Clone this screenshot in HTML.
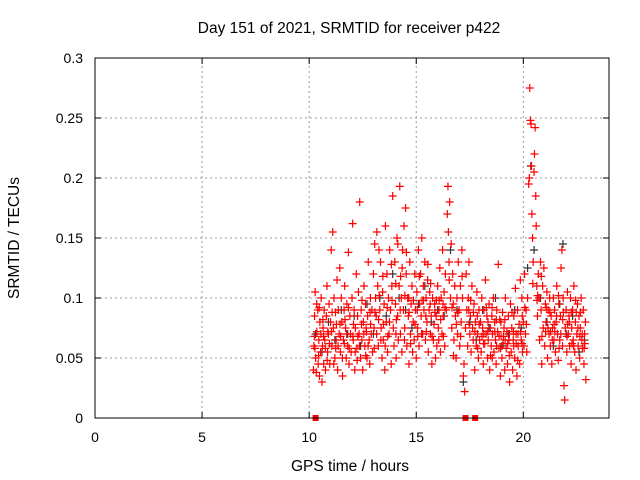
<!DOCTYPE html>
<html><head><meta charset="utf-8"><style>
body{margin:0;background:#fff;}
svg{display:block;font-family:"Liberation Sans",sans-serif;}
</style></head><body>
<svg id="chart" width="640" height="480" xmlns="http://www.w3.org/2000/svg">
<text x="349" y="33" font-size="15.5" text-anchor="middle">Day 151 of 2021, SRMTID for receiver p422</text>
<text x="350" y="471" font-size="15.5" text-anchor="middle">GPS time / hours</text>
<text transform="translate(19,238) rotate(-90)" font-size="15.5" text-anchor="middle">SRMTID / TECUs</text>
<g id="grid"></g>
<g id="ticks"></g>
<g id="black"></g>
<g id="red"></g>
<rect x="95" y="58" width="514" height="360" fill="none" stroke="#000" stroke-width="1"/>
</svg>
<script>
const xTicks=[0,5,10,15,20];
const yTicks=[0,0.05,0.1,0.15,0.2,0.25,0.3];
const yTickLabels=["0","0.05","0.1","0.15","0.2","0.25","0.3"];
const redPoints=[
[10.2,0.04],[10.22,0.06],[10.25,0.085],[10.28,0.105],[10.3,0.05],[10.33,0.038],[10.36,0.072],[10.4,0.09],[10.42,0.045],[10.45,0.065],[10.48,0.035],[10.5,0.08],[10.53,0.055],[10.56,0.1],[10.6,0.03],[10.62,0.06],[10.65,0.075],[10.68,0.045],[10.7,0.09],[10.73,0.065],[10.76,0.04],[10.8,0.085],[10.83,0.11],[10.86,0.055],[10.9,0.07],[10.93,0.095],[10.96,0.045],[11.0,0.08],[11.03,0.14],[11.06,0.06],[11.1,0.155],[11.13,0.075],[11.16,0.1],[11.2,0.05],[11.23,0.088],[11.26,0.065],[11.3,0.115],[11.33,0.04],[11.36,0.09],[11.4,0.07],[11.43,0.125],[11.46,0.055],[11.5,0.1],[11.53,0.08],[11.56,0.035],[11.6,0.065],[11.63,0.09],[11.66,0.11],[11.7,0.075],[11.73,0.05],[11.76,0.095],[11.8,0.06],[11.83,0.138],[11.86,0.045],[11.9,0.085],[11.93,0.07],[11.96,0.055],[12.0,0.1],[12.03,0.162],[12.06,0.065],[12.1,0.09],[12.13,0.04],[12.16,0.075],[12.2,0.12],[12.23,0.058],[12.26,0.085],[12.3,0.105],[12.33,0.07],[12.36,0.18],[12.4,0.05],[12.43,0.09],[12.46,0.065],[12.5,0.04],[12.53,0.08],[12.56,0.11],[12.6,0.06],[12.63,0.095],[12.66,0.075],[12.7,0.05],[12.73,0.085],[12.76,0.13],[12.8,0.065],[12.83,0.045],[12.86,0.1],[12.9,0.07],[12.93,0.09],[12.96,0.055],[13.0,0.12],[13.03,0.075],[13.06,0.145],[13.1,0.1],[13.13,0.085],[13.16,0.155],[13.2,0.11],[13.23,0.06],[13.26,0.14],[13.3,0.09],[13.33,0.13],[13.36,0.075],[13.4,0.05],[13.43,0.105],[13.46,0.065],[13.5,0.095],[13.53,0.04],[13.56,0.16],[13.6,0.08],[13.63,0.12],[13.66,0.055],[13.7,0.1],[13.73,0.07],[13.76,0.14],[13.8,0.09],[13.83,0.045],[13.86,0.11],[13.9,0.185],[13.93,0.075],[13.96,0.06],[14.0,0.13],[14.03,0.095],[14.06,0.05],[14.1,0.15],[14.13,0.085],[14.16,0.065],[14.2,0.11],[14.23,0.193],[14.26,0.07],[14.3,0.1],[14.33,0.055],[14.36,0.14],[14.4,0.09],[14.43,0.16],[14.46,0.075],[14.5,0.175],[14.53,0.12],[14.56,0.06],[14.6,0.1],[14.63,0.085],[14.66,0.045],[14.7,0.13],[14.73,0.07],[14.76,0.095],[14.8,0.11],[14.83,0.055],[14.86,0.08],[14.9,0.065],[14.93,0.12],[14.96,0.09],[15.0,0.05],[15.03,0.105],[15.06,0.075],[15.1,0.14],[15.13,0.06],[15.16,0.095],[15.2,0.12],[15.23,0.085],[15.26,0.15],[15.3,0.07],[15.33,0.11],[15.36,0.09],[15.4,0.13],[15.43,0.065],[15.46,0.1],[15.5,0.08],[15.53,0.115],[15.56,0.055],[15.6,0.09],[15.63,0.105],[15.66,0.07],[15.7,0.085],[15.73,0.045],[15.76,0.1],[15.8,0.065],[15.83,0.078],[15.86,0.095],[15.9,0.05],[15.93,0.085],[15.96,0.06],[16.0,0.11],[16.03,0.075],[16.06,0.09],[16.1,0.125],[16.13,0.055],[16.16,0.1],[16.2,0.07],[16.23,0.14],[16.26,0.085],[16.3,0.105],[16.33,0.06],[16.36,0.12],[16.4,0.09],[16.45,0.17],[16.48,0.193],[16.5,0.155],[16.53,0.13],[16.56,0.18],[16.6,0.1],[16.63,0.145],[16.66,0.075],[16.7,0.12],[16.73,0.095],[16.76,0.065],[16.8,0.11],[16.83,0.085],[16.86,0.05],[16.9,0.1],[16.93,0.07],[16.96,0.13],[17.0,0.09],[17.03,0.06],[17.06,0.11],[17.1,0.08],[17.13,0.14],[17.16,0.1],[17.2,0.035],[17.23,0.045],[17.26,0.022],[17.3,0.075],[17.33,0.12],[17.36,0.09],[17.4,0.06],[17.43,0.1],[17.46,0.13],[17.5,0.07],[17.53,0.085],[17.56,0.055],[17.6,0.11],[17.63,0.075],[17.66,0.065],[17.7,0.095],[17.73,0.04],[17.76,0.08],[17.8,0.06],[17.83,0.105],[17.86,0.07],[17.9,0.05],[17.93,0.09],[17.96,0.065],[18.0,0.08],[18.03,0.055],[18.06,0.1],[18.1,0.075],[18.13,0.045],[18.16,0.09],[18.2,0.062],[18.23,0.115],[18.26,0.07],[18.3,0.085],[18.33,0.05],[18.36,0.065],[18.4,0.095],[18.43,0.04],[18.46,0.075],[18.5,0.06],[18.53,0.085],[18.56,0.07],[18.6,0.1],[18.63,0.055],[18.66,0.08],[18.7,0.065],[18.73,0.045],[18.76,0.09],[18.8,0.072],[18.83,0.128],[18.86,0.058],[18.9,0.082],[18.93,0.035],[18.96,0.068],[19.0,0.05],[19.03,0.088],[19.06,0.062],[19.1,0.075],[19.13,0.04],[19.16,0.1],[19.2,0.058],[19.23,0.072],[19.26,0.045],[19.3,0.085],[19.33,0.065],[19.36,0.03],[19.4,0.095],[19.43,0.055],[19.46,0.075],[19.5,0.04],[19.53,0.065],[19.56,0.085],[19.6,0.05],[19.63,0.108],[19.66,0.07],[19.7,0.035],[19.73,0.09],[19.76,0.06],[19.8,0.078],[19.83,0.045],[19.86,0.115],[19.9,0.065],[19.93,0.1],[19.96,0.055],[20.0,0.08],[20.03,0.06],[20.06,0.12],[20.1,0.07],[20.13,0.09],[20.16,0.055],[20.2,0.1],[20.25,0.195],[20.28,0.2],[20.3,0.275],[20.33,0.248],[20.36,0.245],[20.38,0.21],[20.4,0.17],[20.43,0.15],[20.46,0.13],[20.5,0.205],[20.52,0.22],[20.55,0.242],[20.58,0.185],[20.6,0.16],[20.63,0.11],[20.66,0.085],[20.7,0.12],[20.73,0.1],[20.76,0.065],[20.8,0.13],[20.83,0.09],[20.86,0.045],[20.9,0.11],[20.93,0.075],[20.96,0.125],[21.0,0.06],[21.03,0.095],[21.06,0.08],[21.1,0.105],[21.13,0.05],[21.16,0.09],[21.2,0.07],[21.23,0.1],[21.26,0.06],[21.3,0.085],[21.33,0.045],[21.36,0.075],[21.4,0.1],[21.43,0.065],[21.46,0.09],[21.5,0.055],[21.53,0.08],[21.56,0.11],[21.6,0.07],[21.63,0.048],[21.66,0.095],[21.7,0.065],[21.73,0.085],[21.76,0.125],[21.8,0.14],[21.83,0.06],[21.86,0.1],[21.9,0.027],[21.93,0.015],[21.96,0.075],[22.0,0.09],[22.03,0.055],[22.06,0.105],[22.1,0.07],[22.13,0.085],[22.16,0.06],[22.2,0.1],[22.23,0.045],[22.26,0.075],[22.3,0.09],[22.33,0.065],[22.36,0.11],[22.4,0.055],[22.43,0.08],[22.46,0.04],[22.5,0.07],[22.53,0.095],[22.56,0.06],[22.6,0.085],[22.63,0.05],[22.66,0.075],[22.7,0.1],[22.73,0.065],[22.76,0.058],[22.8,0.09],[22.83,0.045],[22.86,0.07],[22.9,0.08],[22.92,0.032],
[10.35,0.095],[10.55,0.07],[10.75,0.058],[10.95,0.062],[11.15,0.045],[11.35,0.06],[11.55,0.05],[11.75,0.07],[12.15,0.055],[12.35,0.06],[12.55,0.07],[12.75,0.06],[13.15,0.07],[13.35,0.065],[13.55,0.06],[13.75,0.08],[14.05,0.07],[14.25,0.09],[14.45,0.065],[14.65,0.1],[15.05,0.09],[15.25,0.07],[15.45,0.085],[15.65,0.095],[16.05,0.065],[16.25,0.095],[17.45,0.09],[17.85,0.085],[18.15,0.07],[18.35,0.08],[18.55,0.05],[18.75,0.06],[18.95,0.08],[19.15,0.065],[19.35,0.07],[19.55,0.06],[19.75,0.07],[19.95,0.085],[21.15,0.075],[21.35,0.065],[21.55,0.085],[21.75,0.07],[22.15,0.08],[22.35,0.06],[22.55,0.075],[22.75,0.07],
[10.24,0.068],[10.44,0.052],[10.64,0.082],[10.84,0.048],[11.04,0.072],[11.24,0.058],[11.44,0.078],[11.64,0.062],[11.84,0.092],[12.04,0.068],[12.24,0.048],[12.44,0.078],[12.64,0.052],[12.84,0.088],[13.04,0.058],[13.24,0.082],[13.44,0.118],[13.64,0.092],[13.84,0.128],[14.04,0.112],[14.14,0.145],[14.34,0.125],[14.54,0.138],[14.74,0.062],[14.94,0.078],[15.14,0.118],[15.34,0.098],[15.54,0.128],[15.74,0.068],[15.94,0.098],[16.14,0.082],[16.34,0.092],[16.54,0.115],[16.74,0.052],[16.94,0.088],[17.14,0.118],[17.54,0.098],[17.74,0.072],[17.94,0.078],[18.14,0.062],[18.34,0.072],[18.54,0.092],[18.74,0.082],[18.94,0.058],[19.14,0.082],[19.34,0.052],[19.54,0.072],[19.74,0.048],[19.94,0.062],[20.14,0.078],[20.44,0.112],[20.64,0.098],[20.84,0.118],[21.04,0.072],[21.24,0.088],[21.44,0.078],[21.64,0.102],[21.84,0.082],[22.04,0.068],[22.24,0.088],[22.44,0.098],[22.64,0.068],[22.84,0.058],
[10.27,0.058],[10.47,0.092],[10.67,0.068],[10.87,0.072],[11.07,0.088],[11.27,0.078],[11.47,0.068],[11.67,0.082],[11.87,0.058],[12.07,0.078],[12.27,0.068],[12.47,0.098],[12.67,0.072],[12.87,0.078],[13.07,0.088],[13.27,0.102],[13.47,0.078],[13.67,0.068],[13.87,0.098],[14.07,0.082],[14.27,0.118],[14.47,0.102],[14.67,0.088],[14.87,0.098],[15.07,0.068],[15.27,0.098],[15.47,0.072],[15.67,0.112],[15.87,0.088],[16.07,0.098],[16.27,0.068],[16.67,0.092],[16.87,0.078],[17.07,0.068],[17.47,0.078],[17.67,0.088],[17.87,0.058],[18.07,0.068],[18.27,0.092],[18.47,0.052],[18.67,0.072],[18.87,0.068],[19.07,0.068],[19.27,0.062],[19.47,0.088],[19.67,0.062],[19.87,0.072],[20.07,0.092],[20.67,0.102],[20.87,0.068],[21.07,0.092],[21.27,0.072],[21.47,0.072],[21.67,0.058],[21.87,0.088],[22.07,0.078],[22.27,0.062],[22.47,0.088],[22.67,0.088],[22.87,0.062]
];
const blackPoints=[
[10.3,0.07],[10.6,0.055],[10.9,0.08],[11.2,0.065],[11.5,0.09],[11.8,0.07],[12.1,0.085],[12.4,0.06],[12.7,0.095],[13.0,0.07],[13.3,0.1],[13.6,0.085],[13.9,0.12],[14.2,0.1],[14.5,0.09],[14.8,0.075],[15.1,0.095],[15.4,0.11],[15.7,0.08],[16.0,0.09],[16.3,0.085],[16.6,0.14],[16.9,0.09],[17.2,0.03],[17.5,0.08],[17.8,0.065],[18.1,0.09],[18.4,0.075],[18.7,0.1],[19.0,0.06],[19.3,0.07],[19.6,0.09],[19.9,0.075],[20.2,0.125],[20.35,0.21],[20.5,0.14],[20.8,0.1],[21.1,0.08],[21.4,0.06],[21.7,0.095],[21.85,0.145],[22.0,0.07],[22.3,0.085],[22.6,0.055],[22.85,0.065]
];
const zeroMarks=[10.3,17.3,17.75];
const X0=95,X1=609,Y0=418,Y1=58,XMAX=24,YMAX=0.3;
const sx=t=>X0+(X1-X0)*t/XMAX;
const sy=v=>Y0-(Y0-Y1)*v/YMAX;
const NS="http://www.w3.org/2000/svg";
function mk(tag,attrs,parent){const e=document.createElementNS(NS,tag);for(const k in attrs)e.setAttribute(k,attrs[k]);parent.appendChild(e);return e;}
const grid=document.getElementById('grid'),ticks=document.getElementById('ticks');
xTicks.forEach(t=>{const x=sx(t);
 if(t>0){const l=mk('line',{x1:x,x2:x,y1:Y0,y2:Y1,stroke:'#999','stroke-dasharray':'2,3'},grid);
 
 }
 mk('line',{x1:x,x2:x,y1:Y0,y2:Y0-6,stroke:'#000'},ticks);
 mk('line',{x1:x,x2:x,y1:Y1,y2:Y1+6,stroke:'#000'},ticks);
 const tx=mk('text',{x:x,y:Y0+24,'font-size':14,'text-anchor':'middle'},ticks);tx.textContent=t;
 
 });
yTicks.forEach((v,i)=>{const y=sy(v);
 if(v>0&&v<YMAX){const l=mk('line',{x1:X0,x2:X1,y1:y,y2:y,stroke:'#999','stroke-dasharray':'2,3'},grid);
 
 }
 mk('line',{x1:X0,x2:X0+6,y1:y,y2:y,stroke:'#000'},ticks);
 mk('line',{x1:X1,x2:X1-6,y1:y,y2:y,stroke:'#000'},ticks);
 const tx=mk('text',{x:X0-12,y:y+5,'font-size':14,'text-anchor':'end'},ticks);tx.textContent=yTickLabels[i];
 
 });
function plus(parent,t,v,color){const x=sx(t),y=sy(v);
 const p=mk('path',{d:`M${x-4},${y}h8M${x},${y-4}v8`,stroke:color,'stroke-width':1.2,fill:'none'},parent);
 
 }
const bg=document.getElementById('black'),rg=document.getElementById('red');
blackPoints.forEach(p=>plus(bg,p[0],p[1],'#333'));
redPoints.forEach(p=>plus(rg,p[0],p[1],'#f00'));
zeroMarks.forEach(t=>{const r=mk('rect',{x:sx(t)-3,y:Y0-3,width:6,height:6,fill:'#f00'},rg);
 
 });
</script>
</body></html>
